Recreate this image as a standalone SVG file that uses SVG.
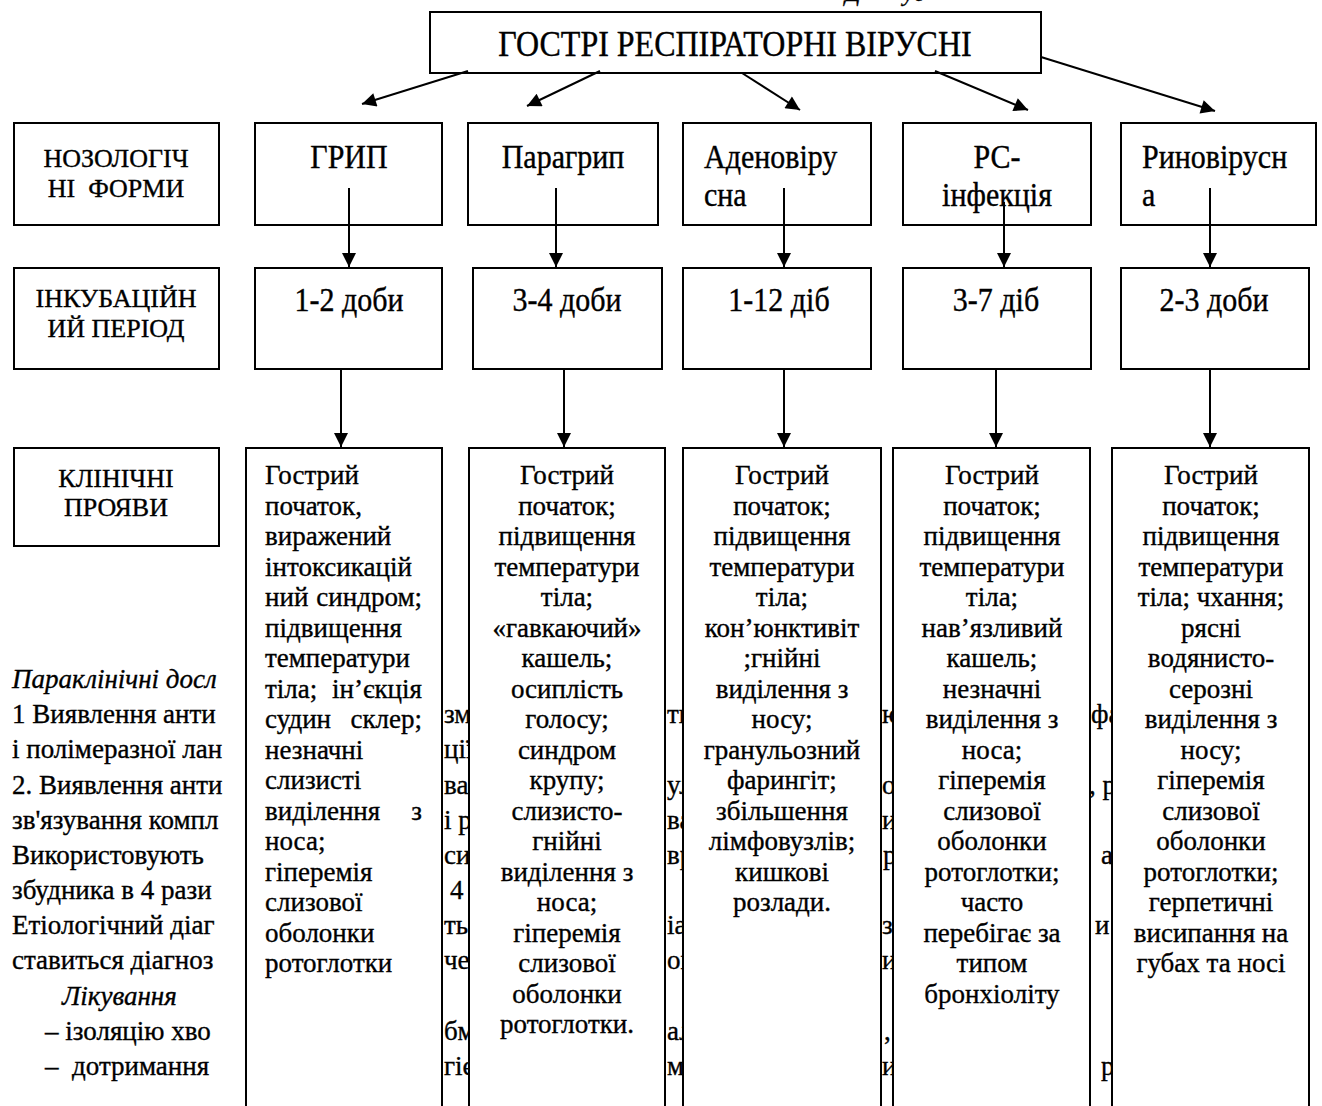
<svg xmlns="http://www.w3.org/2000/svg" width="1322" height="1106" viewBox="0 0 1322 1106">
<style>
  text{font-family:"Liberation Serif",serif;fill:#000;stroke:#000;stroke-width:0.35}
  .box{fill:#fff;stroke:#000;stroke-width:2}
  .ttl{font-size:32px;text-anchor:middle}
  .big{font-size:30px}
  .lbl{font-size:26px;text-anchor:middle}
  .c{text-anchor:middle}
  .e{text-anchor:end}
  .it{font-style:italic}
  .conn line{stroke:#000;stroke-width:2;marker-end:url(#ah)}
</style>
<defs>
  <marker id="ah" viewBox="0 0 10 10" refX="10" refY="5" markerWidth="16" markerHeight="14" markerUnits="userSpaceOnUse" orient="auto">
    <path d="M0,0 L10,5 L0,10 z" fill="#000"/>
  </marker>
</defs>
<rect width="1322" height="1106" fill="#fff"/>

<!-- clipped heading fragments at top edge -->
<g class="it" font-size="24">
  <text x="845" y="1">Д</text>
  <text x="903" y="1">уд</text>
</g>

<!-- background body text (partly covered by boxes) -->
<g id="body-text" font-size="27">
  <text x="12" y="688" class="it">Параклінічні досл</text>
  <text x="12" y="723">1 Виявлення анти</text>
  <text x="12" y="758">і полімеразної лан</text>
  <text x="12" y="794">2. Виявлення анти</text>
  <text x="12" y="829">зв'язування компл</text>
  <text x="12" y="864">Використовують</text>
  <text x="12" y="899">збудника в 4 рази</text>
  <text x="12" y="934">Етіологічний діаг</text>
  <text x="12" y="969">ставиться діагноз</text>
  <text x="62" y="1005" class="it">Лікування</text>
  <text x="45" y="1040">– ізоляцію хво</text>
  <text x="45" y="1075" xml:space="preserve">–  дотримання</text>
  <!-- gap 1 -->
  <text x="444" y="723">зм</text>
  <text x="444" y="758">ції</text>
  <text x="444" y="794">ва</text>
  <text x="444" y="829">і р</text>
  <text x="444" y="864">си</text>
  <text x="450" y="899">4</text>
  <text x="444" y="934">тьс</text>
  <text x="444" y="969">че</text>
  <text x="444" y="1040">бм</text>
  <text x="444" y="1075">гіє</text>
  <!-- gap 2 -->
  <text x="667" y="723">тк</text>
  <text x="667" y="794">ул</text>
  <text x="667" y="829">ва</text>
  <text x="667" y="864">вр</text>
  <text x="667" y="934">іа</text>
  <text x="667" y="969">оп</text>
  <text x="667" y="1040">ал</text>
  <text x="667" y="1075">м</text>
  <!-- gap 3 -->
  <text x="882" y="723">ю</text>
  <text x="882" y="794">о</text>
  <text x="882" y="829">и</text>
  <text x="883" y="864">р</text>
  <text x="882" y="934">зі</text>
  <text x="882" y="969">и</text>
  <text x="884" y="1040">,</text>
  <text x="882" y="1075">и</text>
  <!-- gap 4 -->
  <text x="1091" y="723">фа</text>
  <text x="1089" y="794">, р</text>
  <text x="1101" y="864">а</text>
  <text x="1095" y="934">и</text>
  <text x="1101" y="1075">р</text>
</g>

<!-- title node -->
<g id="n-title">
  <rect class="box" x="430" y="12" width="611" height="61"/>
  <text class="ttl" transform="translate(735,56) scale(1,1.15)">ГОСТРІ РЕСПІРАТОРНІ ВІРУСНІ</text>
</g>

<!-- row labels -->
<g id="lbl-forms">
  <rect class="box" x="14" y="123" width="205" height="102"/>
  <text class="lbl" x="116" y="167">НОЗОЛОГІЧ</text>
  <text class="lbl" x="116" y="197" xml:space="preserve">НІ  ФОРМИ</text>
</g>
<g id="lbl-incub">
  <rect class="box" x="14" y="268" width="205" height="101"/>
  <text class="lbl" x="116" y="307">ІНКУБАЦІЙН</text>
  <text class="lbl" x="116" y="337">ИЙ ПЕРІОД</text>
</g>
<g id="lbl-clin">
  <rect class="box" x="14" y="448" width="205" height="98"/>
  <text class="lbl" x="116" y="487">КЛІНІЧНІ</text>
  <text class="lbl" x="116" y="516">ПРОЯВИ</text>
</g>

<!-- row 1 : nosological forms -->
<g id="n-flu">
  <rect class="box" x="255" y="123" width="187" height="102"/>
  <text class="big c" transform="translate(349,168) scale(1,1.15)">ГРИП</text>
</g>
<g id="n-paraflu">
  <rect class="box" x="468" y="123" width="190" height="102"/>
  <text class="big c" transform="translate(563,168) scale(1,1.15)">Парагрип</text>
</g>
<g id="n-adeno">
  <rect class="box" x="683" y="123" width="188" height="102"/>
  <text class="big" transform="translate(704,168) scale(1,1.15)">Аденовіру</text>
  <text class="big" transform="translate(704,206) scale(1,1.15)">сна</text>
</g>
<g id="n-rs">
  <rect class="box" x="903" y="123" width="188" height="102"/>
  <text class="big c" transform="translate(997,168) scale(1,1.15)">РС-</text>
  <text class="big c" transform="translate(997,206) scale(1,1.15)">інфекція</text>
</g>
<g id="n-rhino">
  <rect class="box" x="1121" y="123" width="195" height="102"/>
  <text class="big" transform="translate(1142,168) scale(1,1.15)">Риновірусн</text>
  <text class="big" transform="translate(1142,206) scale(1,1.15)">а</text>
</g>

<!-- row 2 : incubation -->
<g id="i-flu">
  <rect class="box" x="255" y="268" width="187" height="101"/>
  <text class="big c" transform="translate(349,311) scale(1,1.15)">1-2 доби</text>
</g>
<g id="i-paraflu">
  <rect class="box" x="473" y="268" width="189" height="101"/>
  <text class="big c" transform="translate(567,311) scale(1,1.15)">3-4 доби</text>
</g>
<g id="i-adeno">
  <rect class="box" x="683" y="268" width="188" height="101"/>
  <text class="big c" transform="translate(779,311) scale(1,1.15)">1-12 діб</text>
</g>
<g id="i-rs">
  <rect class="box" x="903" y="268" width="188" height="101"/>
  <text class="big c" transform="translate(996,311) scale(1,1.15)">3-7 діб</text>
</g>
<g id="i-rhino">
  <rect class="box" x="1121" y="268" width="188" height="101"/>
  <text class="big c" transform="translate(1214,311) scale(1,1.15)">2-3 доби</text>
</g>

<!-- row 3 : clinical signs -->
<g id="c-flu">
  <rect class="box" x="246" y="448" width="196" height="680"/>
  <g font-size="27">
    <text x="265" y="484">Гострий</text>
    <text x="265" y="514.5">початок,</text>
    <text x="265" y="545">виражений</text>
    <text x="265" y="575.5">інтоксикацій</text>
    <text x="265" y="606">ний</text><text class="e" x="422" y="606">синдром;</text>
    <text x="265" y="636.5">підвищення</text>
    <text x="265" y="667">температури</text>
    <text x="265" y="697.5">тіла;</text><text class="e" x="422" y="697.5">ін’єкція</text>
    <text x="265" y="728">судин</text><text class="e" x="422" y="728">склер;</text>
    <text x="265" y="758.5">незначні</text>
    <text x="265" y="789">слизисті</text>
    <text x="265" y="819.5">виділення</text><text class="e" x="422" y="819.5">з</text>
    <text x="265" y="850">носа;</text>
    <text x="265" y="880.5">гіперемія</text>
    <text x="265" y="911">слизової</text>
    <text x="265" y="941.5">оболонки</text>
    <text x="265" y="972">ротоглотки</text>
  </g>
</g>
<g id="c-paraflu">
  <rect class="box" x="469" y="448" width="196" height="680"/>
  <g font-size="27" text-anchor="middle">
    <text x="567" y="484">Гострий</text>
    <text x="567" y="514.5">початок;</text>
    <text x="567" y="545">підвищення</text>
    <text x="567" y="575.5">температури</text>
    <text x="567" y="606">тіла;</text>
    <text x="567" y="636.5">«гавкаючий»</text>
    <text x="567" y="667">кашель;</text>
    <text x="567" y="697.5">осиплість</text>
    <text x="567" y="728">голосу;</text>
    <text x="567" y="758.5">синдром</text>
    <text x="567" y="789">крупу;</text>
    <text x="567" y="819.5">слизисто-</text>
    <text x="567" y="850">гнійні</text>
    <text x="567" y="880.5">виділення з</text>
    <text x="567" y="911">носа;</text>
    <text x="567" y="941.5">гіперемія</text>
    <text x="567" y="972">слизової</text>
    <text x="567" y="1002.5">оболонки</text>
    <text x="567" y="1033">ротоглотки.</text>
  </g>
</g>
<g id="c-adeno">
  <rect class="box" x="683" y="448" width="198" height="680"/>
  <g font-size="27" text-anchor="middle">
    <text x="782" y="484">Гострий</text>
    <text x="782" y="514.5">початок;</text>
    <text x="782" y="545">підвищення</text>
    <text x="782" y="575.5">температури</text>
    <text x="782" y="606">тіла;</text>
    <text x="782" y="636.5">кон’юнктивіт</text>
    <text x="782" y="667">;гнійні</text>
    <text x="782" y="697.5">виділення з</text>
    <text x="782" y="728">носу;</text>
    <text x="782" y="758.5">гранульозний</text>
    <text x="782" y="789">фарингіт;</text>
    <text x="782" y="819.5">збільшення</text>
    <text x="782" y="850">лімфовузлів;</text>
    <text x="782" y="880.5">кишкові</text>
    <text x="782" y="911">розлади.</text>
  </g>
</g>
<g id="c-rs">
  <rect class="box" x="893" y="448" width="197" height="680"/>
  <g font-size="27" text-anchor="middle">
    <text x="992" y="484">Гострий</text>
    <text x="992" y="514.5">початок;</text>
    <text x="992" y="545">підвищення</text>
    <text x="992" y="575.5">температури</text>
    <text x="992" y="606">тіла;</text>
    <text x="992" y="636.5">нав’язливий</text>
    <text x="992" y="667">кашель;</text>
    <text x="992" y="697.5">незначні</text>
    <text x="992" y="728">виділення з</text>
    <text x="992" y="758.5">носа;</text>
    <text x="992" y="789">гіперемія</text>
    <text x="992" y="819.5">слизової</text>
    <text x="992" y="850">оболонки</text>
    <text x="992" y="880.5">ротоглотки;</text>
    <text x="992" y="911">часто</text>
    <text x="992" y="941.5">перебігає за</text>
    <text x="992" y="972">типом</text>
    <text x="992" y="1002.5">бронхіоліту</text>
  </g>
</g>
<g id="c-rhino">
  <rect class="box" x="1112" y="448" width="197" height="680"/>
  <g font-size="27" text-anchor="middle">
    <text x="1211" y="484">Гострий</text>
    <text x="1211" y="514.5">початок;</text>
    <text x="1211" y="545">підвищення</text>
    <text x="1211" y="575.5">температури</text>
    <text x="1211" y="606">тіла; чхання;</text>
    <text x="1211" y="636.5">рясні</text>
    <text x="1211" y="667">водянисто-</text>
    <text x="1211" y="697.5">серозні</text>
    <text x="1211" y="728">виділення з</text>
    <text x="1211" y="758.5">носу;</text>
    <text x="1211" y="789">гіперемія</text>
    <text x="1211" y="819.5">слизової</text>
    <text x="1211" y="850">оболонки</text>
    <text x="1211" y="880.5">ротоглотки;</text>
    <text x="1211" y="911">герпетичні</text>
    <text x="1211" y="941.5">висипання на</text>
    <text x="1211" y="972">губах та носі</text>
  </g>
</g>

<!-- connectors -->
<g id="connectors" class="conn">
  <line x1="468" y1="71" x2="362" y2="104"/>
  <line x1="600" y1="71" x2="527" y2="106"/>
  <line x1="742" y1="73" x2="800" y2="110"/>
  <line x1="935" y1="71" x2="1028" y2="110"/>
  <line x1="1041" y1="57" x2="1215" y2="111"/>

  <line x1="349" y1="188" x2="349" y2="267"/>
  <line x1="556" y1="188" x2="556" y2="267"/>
  <line x1="784" y1="188" x2="784" y2="267"/>
  <line x1="1004" y1="202" x2="1004" y2="267"/>
  <line x1="1210" y1="188" x2="1210" y2="267"/>

  <line x1="341" y1="369" x2="341" y2="447"/>
  <line x1="564" y1="369" x2="564" y2="447"/>
  <line x1="784" y1="369" x2="784" y2="447"/>
  <line x1="996" y1="369" x2="996" y2="447"/>
  <line x1="1210" y1="369" x2="1210" y2="447"/>
</g>
</svg>
